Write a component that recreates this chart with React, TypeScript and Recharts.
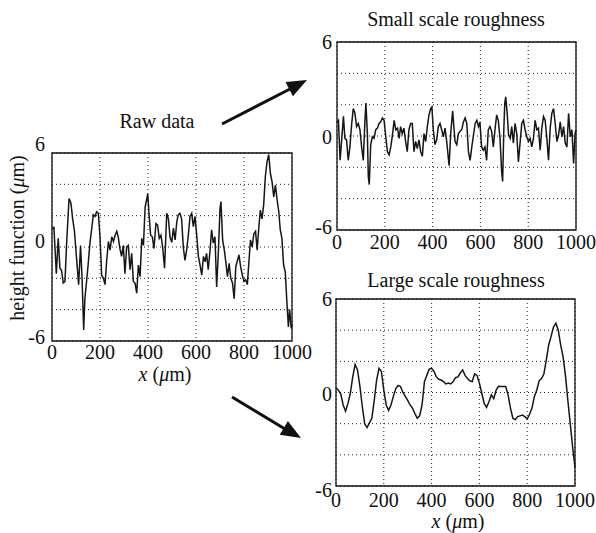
import React from 'react';
import { LineChart, Line, XAxis, YAxis, CartesianGrid, ReferenceArea } from 'recharts';

// raw profile (x in um, height in um)
const rawX = [0, 8, 18, 26, 33, 40, 47, 54, 61, 71, 79, 86, 93, 103, 111, 119, 125, 132, 137, 144, 151, 158, 165, 172, 179, 186, 193, 200, 207, 214, 221, 228, 235, 242, 249, 256, 263, 270, 276, 283, 290, 297, 304, 311, 318, 325, 332, 339, 346, 353, 360, 367, 374, 381, 388, 394, 399, 404, 411, 418, 425, 433, 440, 447, 454, 461, 469, 478, 485, 492, 499, 506, 513, 520, 526, 533, 540, 547, 554, 561, 568, 575, 582, 589, 596, 603, 610, 617, 624, 631, 638, 644, 651, 658, 665, 672, 679, 686, 693, 700, 704, 711, 718, 725, 731, 738, 745, 752, 759, 766, 773, 779, 786, 793, 800, 807, 814, 820, 827, 834, 841, 848, 855, 861, 868, 875, 882, 889, 896, 903, 910, 917, 924, 931, 938, 945, 951, 958, 965, 972, 979, 985, 990, 997, 1000];
const rawY = [1.2, 1.25, -1.7, 0.55, -1.35, -1.5, -2.3, -2.2, 0.25, 3.1, 2.8, 1.8, 1.1, -0.85, -2.4, 0.1, -1.9, -5.3, -3.3, -2.2, -1.05, 0.25, 1.1, 2.05, 1.95, 2.25, 2.15, 0.65, -1.8, -2.0, -2.4, -0.85, 0.35, -0.2, 0.65, 0.35, 0.75, 1.0, 0.65, -0.1, -0.6, 0.1, -1.7, 0.0, 0.1, -1.45, -0.4, -2.2, -2.3, -2.95, -1.15, -1.9, 0.55, 0.1, 2.55, 3.0, 3.4, 2.15, 0.75, 0.65, -0.1, 1.5, 1.4, 0.55, 0.75, 0.0, -1.35, 2.15, 1.8, 0.6, 0.3, 1.2, 0.45, 1.6, 2.05, 2.15, 1.8, 0.0, -0.85, -0.2, 0.75, 1.95, 2.15, 1.3, 1.95, 0.75, -0.6, -1.15, -1.8, -0.6, -0.95, -0.4, -1.45, -0.3, 1.1, 0.25, 0.65, -2.55, -0.4, 2.45, 2.9, 0.45, -0.2, -1.05, -1.9, -1.05, -2.0, -2.3, -3.3, -1.25, -0.85, -0.5, -1.25, -1.8, -2.2, -2.1, -2.4, -1.05, 0.45, 0.0, 0.85, 1.0, -0.2, 1.1, 2.35, 1.8, 2.7, 4.5, 5.45, 5.9, 4.7, 4.15, 3.2, 3.95, 3.0, 2.25, 1.1, 0.55, -1.15, -1.6, -3.6, -5.1, -4.0, -5.2, -4.9];

// small scale part
const smallX = [0, 6, 13, 20, 27, 33, 40, 47, 54, 61, 68, 75, 82, 89, 96, 103, 110, 117, 121, 127, 131, 135, 141, 148, 155, 162, 169, 176, 183, 190, 197, 204, 211, 218, 225, 232, 239, 246, 253, 260, 266, 273, 280, 287, 294, 301, 308, 315, 322, 329, 336, 343, 350, 357, 364, 371, 378, 385, 392, 397, 403, 410, 417, 424, 431, 438, 445, 452, 459, 469, 476, 484, 490, 494, 501, 508, 515, 522, 529, 536, 543, 550, 557, 564, 571, 578, 585, 592, 598, 605, 612, 619, 626, 633, 640, 647, 654, 661, 668, 675, 682, 689, 693, 698, 702, 706, 712, 718, 725, 731, 738, 745, 752, 759, 766, 773, 780, 787, 794, 801, 808, 815, 822, 829, 836, 843, 850, 857, 864, 871, 878, 885, 892, 899, 906, 913, 920, 927, 934, 941, 948, 955, 962, 969, 976, 983, 990, 996, 1000];
const smallY = [0.9, 1.0, -1.55, -0.15, 1.25, -0.15, -0.25, -1.55, -0.7, 0.7, 1.75, 1.45, 0.6, 0.8, 0.4, -0.7, -1.55, 1.0, 2.1, 0.15, -2.6, -3.1, -0.55, -0.05, -0.15, 0.4, 0.5, 0.8, 0.9, 1.15, 1.0, -0.05, -1.0, -1.2, -0.7, 0.05, 1.0, 0.4, 0.5, -0.15, 0.6, 0.15, 0.5, -0.35, -1.0, 0.4, 0.8, 0.8, -1.0, -0.35, -0.8, -0.25, -1.0, -1.3, 0.15, -0.35, 0.6, 1.35, 1.75, 1.85, 0.4, -0.55, -0.25, 0.6, 0.8, 0.4, -0.05, 0.5, -0.35, -1.9, 0.2, 1.6, 0.4, -0.35, -0.55, 0.15, 0.3, 0.4, 0.9, 1.15, 0.8, -1.0, -1.55, -0.7, 0.05, 0.8, 1.0, 0.6, 0.9, -0.7, -0.9, -0.7, -1.55, 0.4, 0.6, 0.3, -0.7, 0.4, 1.35, 1.0, -0.15, -2.3, -2.9, 0.4, 2.1, 2.5, 1.45, 0.05, -0.15, 0.6, -0.45, 0.8, 0.15, -1.65, -0.45, 0.8, 1.0, 0.4, -0.05, -0.35, -0.15, -0.7, -0.15, 1.0, 0.4, 0.5, -0.9, 0.5, 1.25, 1.0, -0.15, -1.55, 0.5, 1.45, 1.75, 0.8, -0.35, 0.05, 0.9, -0.05, 0.6, -0.45, -0.7, 1.45, -0.05, 0.4, -1.75, 0.15, 0.4];

// large scale part, sampled every 10 um
const largeY = [0.31, 0.15, -0.1, -0.8, -1.2, -0.7, -0.05, 1.0, 1.8, 1.45, 0.4, -0.9, -2.0, -2.25, -1.95, -1.65, -0.5, 0.8, 1.55, 1.35, 0.15, -0.8, -1.15, -0.8, -0.25, 0.25, 0.45, 0.38, 0.0, -0.25, -0.5, -0.8, -1.0, -1.35, -1.65, -1.5, -0.8, 0.7, 1.1, 1.5, 1.55, 1.35, 1.0, 0.85, 0.8, 0.7, 0.55, 0.6, 0.55, 0.7, 0.95, 1.0, 1.25, 1.45, 1.1, 0.9, 0.75, 0.7, 1.2, 1.1, 0.6, -0.05, -0.7, -0.95, -0.6, -0.15, -0.4, 0.15, 0.4, 0.38, 0.38, 0.38, -0.15, -1.0, -1.65, -1.75, -1.55, -1.5, -1.45, -1.55, -1.7, -1.4, -1.0, -0.25, 0.15, 0.75, 0.9, 1.2, 2.1, 3.05, 3.6, 4.2, 4.45, 4.0, 3.05, 2.3, 1.1, -0.5, -2.0, -3.5, -4.8];
const largeX = largeY.map((_, i) => i * 10);

const xTicks = [0, 200, 400, 600, 800, 1000];
const yTicks = [-6, -4, -2, 0, 2, 4, 6];
const yLabels = [-6, 0, 6];

const FONT = '"Liberation Serif", "DejaVu Serif", serif';

const toRows = (xs: number[], ys: number[]) => xs.map((x, i) => ({ x, y: ys[i] }));

interface PanelProps {
  left: number;
  top: number;
  w: number;
  h: number;
  xs: number[];
  ys: number[];
  xDy: number;
  yDy: Record<string, number>;
  yDx: number;
}

const ML = 50, MR = 36, MT = 24, MB = 30;

const Panel: React.FC<PanelProps> = ({ left, top, w, h, xs, ys, xDy, yDy, yDx }) => {
  const data = toRows(xs, ys);
  return (
    <div style={{ position: 'absolute', left: left - ML, top: top - MT }}>
      <LineChart width={w + ML + MR} height={h + MT + MB} data={data} margin={{ top: MT, right: MR, bottom: 0, left: 0 }}>
        <CartesianGrid stroke="#222" strokeDasharray="1 3" strokeWidth={1} />
        <XAxis
          type="number"
          dataKey="x"
          domain={[0, 1000]}
          ticks={xTicks}
          height={MB}
          tickSize={0}
          tickMargin={0}
          tickLine={false}
          axisLine={false}
          interval={0}
          tick={(p: any) => (
            <text x={p.x} y={p.y + xDy} textAnchor="middle" dominantBaseline="central" fontFamily={FONT} fontSize={20} fill="#111">
              {p.payload.value}
            </text>
          )}
        />
        <YAxis
          type="number"
          domain={[-6, 6]}
          ticks={yTicks}
          width={ML}
          tickSize={0}
          tickMargin={0}
          tickLine={false}
          axisLine={false}
          interval={0}
          tick={(p: any) =>
            yLabels.includes(p.payload.value) ? (
              <text x={p.x - yDx} y={p.y + (yDy[String(p.payload.value)] || 0)} textAnchor="end" dominantBaseline="central" fontFamily={FONT} fontSize={20} fill="#111">
                {p.payload.value}
              </text>
            ) : (
              <g />
            )
          }
        />
        <Line type="linear" dataKey="y" stroke="#161616" strokeWidth={1.5} dot={false} isAnimationActive={false} />
        <ReferenceArea x1={0} x2={1000} y1={-6} y2={6} fill="none" fillOpacity={0} stroke="#111" strokeWidth={1.3} ifOverflow="visible" />
      </LineChart>
    </div>
  );
};

const Italic: React.FC<{ children: React.ReactNode }> = ({ children }) => <tspan fontStyle="italic">{children}</tspan>;

export default function App() {
  return (
    <div style={{ position: 'absolute', left: 0, top: 0, width: 596, height: 533, background: '#fff', fontFamily: FONT, overflow: 'hidden' }}>
      <Panel left={52} top={153} w={240} h={188} xs={rawX} ys={rawY} xDy={11} yDy={{ '6': -9, '0': -6, '-6': -4 }} yDx={7} />
      <Panel left={337} top={42} w={239} h={188} xs={smallX} ys={smallY} xDy={12} yDy={{ '6': 0, '0': 1, '-6': -3 }} yDx={5} />
      <Panel left={336} top={299} w={239} h={187} xs={largeX} ys={largeY} xDy={14} yDy={{ '6': 0, '0': 1, '-6': 4 }} yDx={4} />
      <svg width={596} height={533} style={{ position: 'absolute', left: 0, top: 0, pointerEvents: 'none' }}>
        <g fontFamily={FONT} fontSize={20} fill="#111">
          <text x={456} y={26} textAnchor="middle">Small scale roughness</text>
          <text x={456} y={287} textAnchor="middle">Large scale roughness</text>
          <text x={157} y={128} textAnchor="middle">Raw data</text>
          <text x={165} y={381} textAnchor="middle">
            <Italic>x</Italic> (<Italic>μ</Italic>m)
          </text>
          <text x={458} y={528} textAnchor="middle">
            <Italic>x</Italic> (<Italic>μ</Italic>m)
          </text>
          <text transform="translate(24,238) rotate(-90)" textAnchor="middle">
            height function (<Italic>μ</Italic>m)
          </text>
        </g>
        <line x1={222} y1={124} x2={290} y2={89} stroke="#111" strokeWidth={3} />
        <polygon points="307,80 292.9,96.3 285.5,82.1" fill="#111" />
        <line x1={232} y1={397} x2={285} y2={429} stroke="#111" strokeWidth={3} />
        <polygon points="301,438 279.7,434.7 287.9,420.9" fill="#111" />
      </svg>
    </div>
  );
}
